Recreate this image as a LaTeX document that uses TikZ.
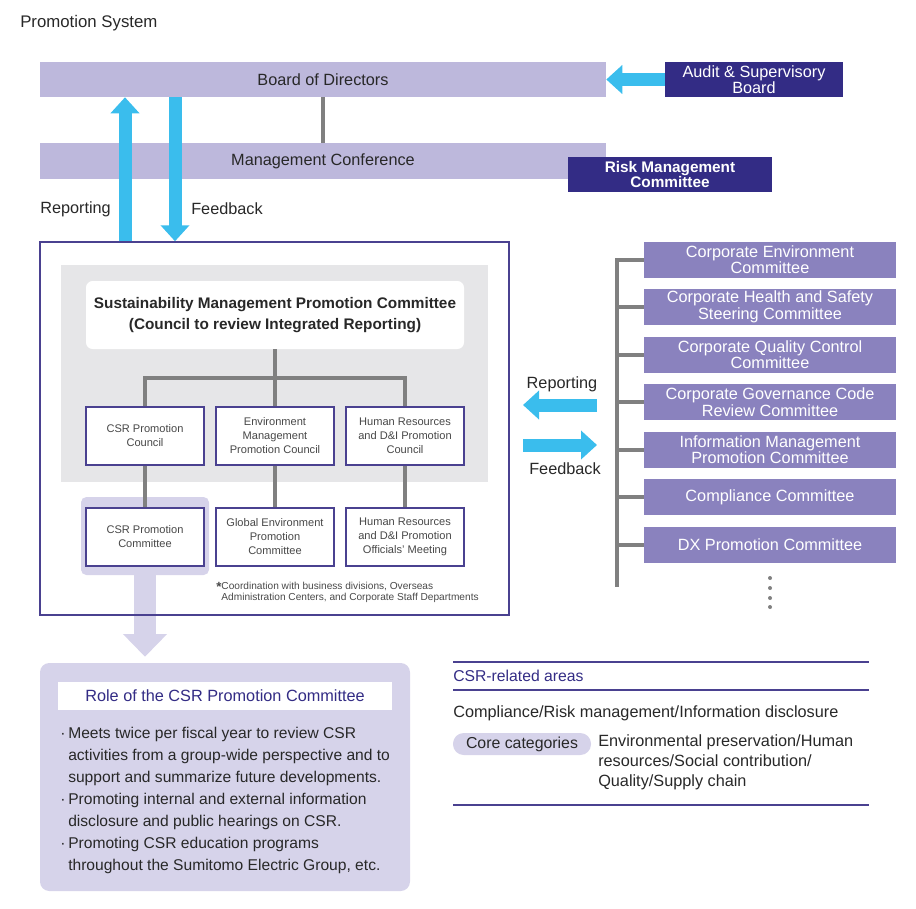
\documentclass[tikz,border=0pt]{standalone}
\usepackage{fontspec}
\setmainfont{Liberation Sans}
\usetikzlibrary{arrows.meta}

\definecolor{barlav}{RGB}{189,184,220}
\definecolor{navy}{RGB}{51,44,133}
\definecolor{framenavy}{RGB}{74,65,144}
\definecolor{cmpurple}{RGB}{138,130,190}
\definecolor{arrowblue}{RGB}{58,189,237}
\definecolor{lightlav}{RGB}{214,211,234}
\definecolor{panelgray}{RGB}{230,230,232}
\definecolor{linegray}{RGB}{128,128,128}
\definecolor{txt}{RGB}{40,40,40}

\tikzset{
  plain/.style={inner sep=0pt, text=txt, font=\fontsize{12.2}{14}\selectfont},
  bar/.style={fill=barlav, inner sep=0pt, minimum width=424.5pt, text=txt, font=\fontsize{12.2}{14}\selectfont},
  navybox/.style={fill=navy, text=white, inner sep=0pt, minimum height=26.25pt, align=center, font=\fontsize{12.2}{11.25}\selectfont},
  smallbox/.style={draw=framenavy, line width=1.1pt, fill=white, inner sep=0pt, minimum width=88.5pt, minimum height=43.5pt, align=center, text=txt!85, font=\fontsize{8.3}{10.5}\selectfont},
  cmte/.style={fill=cmpurple, text=white, inner sep=0pt, minimum width=189pt, minimum height=27pt, align=center, font=\fontsize{12.2}{11.25}\selectfont},
  tree/.style={draw=linegray, line width=3pt},
  bluearrow/.style={draw=arrowblue, line width=9.75pt, -{Triangle[width=21pt,length=12pt]}},
  lavarrow/.style={draw=lightlav, line width=16.5pt, -{Triangle[width=32pt,length=17pt]}},
  rule/.style={draw=framenavy, line width=1.3pt},
}

\newcommand{\bul}{\makebox[6pt][l]{\textperiodcentered}}
\newcommand{\ind}{\hspace*{6pt}}
\newcommand{\notemark}{\smash{\raisebox{-1.6pt}{\bfseries\fontsize{10}{8}\selectfont *}}}

\begin{document}
\begin{tikzpicture}[x=0.75pt,y=0.75pt,yscale=-1,xscale=1]
\useasboundingbox (0,0) rectangle (916,908);

% Text Node
\node (title) at (20,23) [anchor=west, plain, font=\fontsize{12.6}{14}\selectfont] {Promotion System};

%Shape: Board and Management Conference
\node (bod) at (323,79.5) [bar, minimum height=26.25pt] {Board of Directors};
\node (mcf) at (323,161) [bar, minimum height=27pt] {Management Conference};
\draw [tree] (bod.south) -- (mcf.north);

%Shape: Audit and Risk boxes
\node (audit) at (754,79.5) [navybox, minimum width=133.5pt] {Audit \& Supervisory\\Board};
\node (risk) at (670,174.5) [navybox, minimum width=153pt, font=\bfseries\fontsize{11.5}{11.25}\selectfont] {Risk Management\\Committee};

%Shape: highlight behind CSR Promotion Committee
\node (hl) at (145,536) [fill=lightlav, rounded corners=4pt, minimum width=96pt, minimum height=58.5pt, inner sep=0pt] {};

%Shape: role of the CSR Promotion Committee
\node (role) at (225,777) [fill=lightlav, rounded corners=7pt, minimum width=277.5pt, minimum height=171pt, inner sep=0pt] {};
\draw [lavarrow, shorten >=4.5pt] (hl.south) -- (hl.south |- role.north);

%Shape: outer frame and gray panel
\node (main) at (274.5,428.5) [draw=framenavy, line width=1.1pt, minimum width=351.75pt, minimum height=279.75pt, inner sep=0pt] {};
\node (panel) at (274.5,373.5) [fill=panelgray, minimum width=320.25pt, minimum height=162.75pt, inner sep=0pt] {};

%Arrows to the Board
\draw [bluearrow] (audit.west) -- (bod.east);
\coordinate (repx) at (125,0);
\coordinate (fbx) at (175,0);
\draw [bluearrow] (repx |- main.north) -- (repx |- bod.south);
\draw [bluearrow] (fbx |- bod.south) -- (fbx |- main.north);

% Text Node
\node (replbl) at (40,209) [anchor=west, plain] {Reporting};
% Text Node
\node (fblbl) at (191,209) [anchor=west, plain] {Feedback};

%Shape: Sustainability committee
\node (smpc) at (275,315) [fill=white, rounded corners=5pt, minimum width=283.5pt, minimum height=51pt, inner sep=0pt, align=center, text=txt, font=\bfseries\fontsize{11.5}{15.75}\selectfont] {Sustainability Management Promotion Committee\\(Council to review Integrated Reporting)};

%Shape: councils
\node (csrc) at (145,436) [smallbox] {CSR Promotion\\Council};
\node (envc) at (275,436) [smallbox] {Environment\\Management\\Promotion Council};
\node (hrc) at (405,436) [smallbox] {Human Resources\\and D\&I Promotion\\Council};

%Shape: committees below
\node (csrm) at (145,537) [smallbox] {CSR Promotion\\Committee};
\node (gloc) at (275,537) [smallbox] {Global Environment\\Promotion\\Committee};
\node (hrm) at (405,537) [smallbox] {Human Resources\\and D\&I Promotion\\Officials' Meeting};

%Straight Lines
\draw [tree] (smpc.south) -- ++(0,29) coordinate (jn);
\draw [tree] (csrc.north) |- (jn) -| (hrc.north);
\draw [tree] (jn) -- (envc.north);
\draw [tree] (csrc.south) -- (csrm.north);
\draw [tree] (envc.south) -- (gloc.north);
\draw [tree] (hrc.south) -- (hrm.north);

% Text Node
\node (note) at (216,582) [anchor=north west, inner sep=0pt, align=left, text=txt!85, font=\fontsize{7.6}{8.4}\selectfont] {\notemark Coordination with business divisions, Overseas\\\phantom{\notemark}Administration Centers, and Corporate Staff Departments};

%Shape: corporate committees
\node (envcm) at (770,259.5) [cmte] {Corporate Environment\\Committee};
\node (hscm) at (770,307) [cmte] {Corporate Health and Safety\\Steering Committee};
\node (qccm) at (770,354.5) [cmte] {Corporate Quality Control\\Committee};
\node (cgcm) at (770,402) [cmte] {Corporate Governance Code\\Review Committee};
\node (imcm) at (770,449.5) [cmte] {Information Management\\Promotion Committee};
\node (comcm) at (770,497) [cmte] {Compliance Committee};
\node (dxcm) at (770,544.5) [cmte] {DX Promotion Committee};

%Straight Lines
\coordinate (trunkbot) at (617,587);
\draw [tree] (envcm.west) -| (trunkbot);
\draw [tree] (hscm.west) -- (hscm.west -| trunkbot) (qccm.west) -- (qccm.west -| trunkbot)
  (cgcm.west) -- (cgcm.west -| trunkbot) (imcm.west) -- (imcm.west -| trunkbot)
  (comcm.west) -- (comcm.west -| trunkbot) (dxcm.west) -- (dxcm.west -| trunkbot);

%Shape: dots
\fill [linegray] (770,578) circle [radius=1.5pt] (770,588) circle [radius=1.5pt]
  (770,598) circle [radius=1.5pt] (770,607) circle [radius=1.5pt];

%Side arrows
\coordinate (repin) at (523,405);
\coordinate (repout) at (597,405);
\coordinate (fbin) at (523,445);
\coordinate (fbout) at (597,445);
\draw [bluearrow] (repout) -- (repin);
\draw [bluearrow] (fbin) -- (fbout);
% Text Node
\node (sreplbl) at (562,384) [plain] {Reporting};
% Text Node
\node (sfblbl) at (565,469) [plain] {Feedback};

%Text: role of the CSR Promotion Committee
\node (roletitle) at (225,696) [fill=white, minimum width=250.5pt, minimum height=21pt, inner sep=0pt, text=navy, font=\fontsize{12.2}{14}\selectfont] {Role of the CSR Promotion Committee};
\node (rolebody) at (60,727) [anchor=north west, inner sep=0pt, align=left, text=txt, font=\fontsize{11.7}{16.5}\selectfont] {\bul Meets twice per fiscal year to review CSR\\\ind activities from a group-wide perspective and to\\\ind support and summarize future developments.\\\bul Promoting internal and external information\\\ind disclosure and public hearings on CSR.\\\bul Promoting CSR education programs\\\ind throughout the Sumitomo Electric Group, etc.};

%Straight Lines: CSR-related areas
\draw [rule] (453,662) -- (869,662);
\draw [rule] (453,690) -- (869,690);
\draw [rule] (453,805) -- (869,805);
% Text Node
\node (areas) at (453,676) [anchor=west, plain, text=navy, font=\fontsize{11.8}{14}\selectfont] {CSR-related areas};
% Text Node
\node (comp) at (453,713) [anchor=west, plain] {Compliance/Risk management/Information disclosure};
\node (core) at (522,744) [fill=lightlav, rounded corners=8pt, minimum width=103.5pt, minimum height=16.5pt, inner sep=0pt, text=txt, font=\fontsize{11.9}{14}\selectfont] {Core categories};
% Text Node
\node (corelist) at (598,734) [anchor=north west, inner sep=0pt, align=left, text=txt, font=\fontsize{12.2}{15}\selectfont] {Environmental preservation/Human\\resources/Social contribution/\\Quality/Supply chain};

\end{tikzpicture}
\end{document}
